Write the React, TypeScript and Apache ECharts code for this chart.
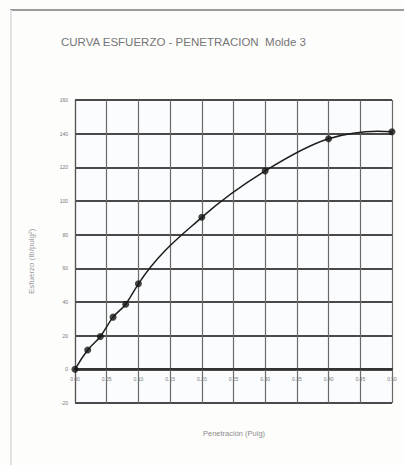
import React, { useEffect, useRef } from "react";
import * as echarts from "echarts";

// Penetración (pulg) y esfuerzo medidos para el molde 3
const penetracion: number[] = [0, 0.02, 0.04, 0.06, 0.08, 0.1, 0.2, 0.3, 0.4, 0.5];
const esfuerzo: number[] = [0, 11.5, 19.5, 31.0, 38.7, 50.8, 90.3, 117.9, 137.0, 141.1];

const titulo = "CURVA ESFUERZO - PENETRACION  Molde 3";
const tituloX = "Penetración (Pulg)";
const tituloY = "Esfuerzo (lb/pulg²)";

// Curva suave (Hermite cúbica con tangentes de Bessel) por los puntos ya proyectados
function curvaSuave(p: number[][], style: any) {
  const n = p.length;
  const h: number[] = [];
  const d: number[] = [];
  for (let i = 0; i < n - 1; i++) {
    h.push(p[i + 1][0] - p[i][0]);
    d.push((p[i + 1][1] - p[i][1]) / h[i]);
  }
  const m: number[] = new Array(n);
  for (let i = 1; i < n - 1; i++) {
    m[i] = (d[i - 1] * h[i] + d[i] * h[i - 1]) / (h[i - 1] + h[i]);
  }
  m[0] = d[0] - ((d[1] - d[0]) * h[0]) / (h[0] + h[1]);
  m[n - 1] = d[n - 2] + ((d[n - 2] - d[n - 3]) * h[n - 2]) / (h[n - 2] + h[n - 3]);
  const segs = [];
  for (let i = 0; i < n - 1; i++) {
    const k = h[i] / 3;
    segs.push({
      type: "bezierCurve",
      shape: {
        x1: p[i][0],
        y1: p[i][1],
        cpx1: p[i][0] + k,
        cpy1: p[i][1] + m[i] * k,
        cpx2: p[i + 1][0] - k,
        cpy2: p[i + 1][1] - m[i + 1] * k,
        x2: p[i + 1][0],
        y2: p[i + 1][1],
      },
      style,
    });
  }
  return segs;
}

export default function App() {
  const ref = useRef<HTMLDivElement>(null);

  useEffect(() => {
    if (!ref.current) return;
    const chart = echarts.init(ref.current, undefined, { renderer: "svg" });
    const puntos = penetracion.map((x, i) => [x, esfuerzo[i]]);

    chart.setOption({
      animation: false,
      backgroundColor: "#fdfdfc",
      graphic: [
        // borde de la hoja
        { type: "line", shape: { x1: 10, y1: 10, x2: 404, y2: 10 }, style: { stroke: "#9a9a9a", lineWidth: 2 } },
        { type: "line", shape: { x1: 11, y1: 10, x2: 11, y2: 465 }, style: { stroke: "#e2e2e2", lineWidth: 2 } },
        {
          type: "text",
          left: 61,
          top: 36,
          style: { text: titulo, fill: "#767676", font: "11.5px 'Liberation Sans', Arial, sans-serif" },
        },
        {
          type: "text",
          left: 203,
          top: 429,
          style: { text: tituloX, fill: "#8c8c8c", font: "7.5px 'Liberation Sans', Arial, sans-serif" },
        },
        {
          type: "text",
          x: 31,
          y: 294,
          rotation: Math.PI / 2,
          style: { text: tituloY, fill: "#9c9c9c", font: "8px 'Liberation Sans', Arial, sans-serif", align: "left", verticalAlign: "middle" },
          originX: 0,
          originY: 0,
        },
      ],
      grid: { left: 75, right: 12, top: 100, bottom: 62, backgroundColor: "#fbfcfd", show: true, borderWidth: 0 },
      xAxis: {
        type: "value",
        min: 0,
        max: 0.5,
        interval: 0.05,
        // el eje se dibuja sobre la línea de esfuerzo cero
        offset: -34,
        axisLine: { onZero: false, lineStyle: { color: "#333", width: 2 } },
        axisTick: { show: false },
        axisLabel: {
          formatter: (v: number) => v.toFixed(2),
          fontSize: 5,
          color: "#777",
          margin: 7,
          showMaxLabel: true,
          showMinLabel: true,
        },
        splitLine: { show: true, lineStyle: { color: "#6a6a6a", width: 1.2 } },
      },
      yAxis: {
        type: "value",
        min: -20,
        max: 160,
        interval: 20,
        axisLine: { show: true, lineStyle: { color: "#555", width: 1.2 } },
        axisTick: { show: false },
        axisLabel: { fontSize: 5, color: "#777", margin: 7 },
        splitLine: { show: true, lineStyle: { color: "#4a4a4a", width: 1.8 } },
      },
      series: [
        {
          type: "custom",
          data: puntos,
          renderItem: (params: any, api: any) => {
            if (params.dataIndex !== 0) return null;
            const px = puntos.map((q) => api.coord(q));
            return {
              type: "group",
              children: curvaSuave(px, { stroke: "#1e1e1e", lineWidth: 1.5, fill: "none" }),
            };
          },
          z: 2,
        },
        {
          type: "scatter",
          data: puntos,
          symbol: "circle",
          symbolSize: 7,
          itemStyle: { color: "#151515" },
          z: 3,
        },
      ],
    });

    return () => chart.dispose();
  }, []);

  return (
    <div
      ref={ref}
      style={{ position: "fixed", left: 0, top: 0, width: 404, height: 465 }}
    />
  );
}
